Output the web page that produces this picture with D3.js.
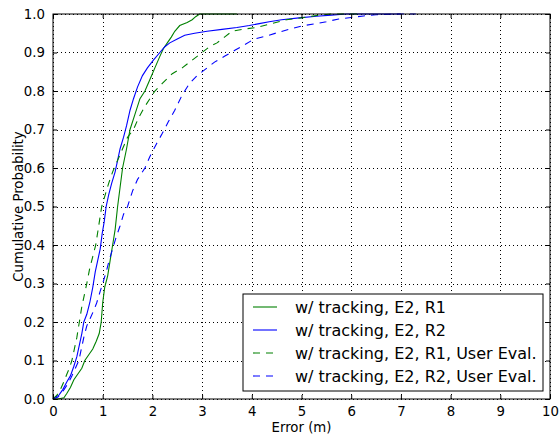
<!DOCTYPE html>
<html>
<head>
<meta charset="utf-8">
<script src="https://cdn.jsdelivr.net/npm/d3@7"></script>
<style>
  body { margin: 0; background: #fff; }
  text { font-family: "DejaVu Sans", sans-serif; fill: #000; }
</style>
</head>
<body>
<div id="chart"></div>
<script>
// error (m) vs cumulative probability
const r1Tracking = [[0,0],[0.1,0],[0.22,0.003],[0.28,0.015],[0.35,0.03],[0.42,0.05],[0.5,0.065],[0.58,0.08],[0.64,0.1],[0.72,0.115],[0.8,0.13],[0.87,0.15],[0.93,0.17],[0.97,0.2],[1.0,0.25],[1.04,0.29],[1.1,0.32],[1.15,0.36],[1.2,0.4],[1.25,0.44],[1.3,0.5],[1.35,0.55],[1.4,0.6],[1.48,0.65],[1.55,0.7],[1.65,0.74],[1.75,0.78],[1.85,0.8],[1.95,0.83],[2.05,0.86],[2.15,0.89],[2.22,0.91],[2.3,0.925],[2.38,0.94],[2.45,0.955],[2.55,0.97],[2.7,0.978],[2.8,0.985],[2.87,0.993],[2.95,1.0],[3.7,1.0]]

const r2Tracking = [[0,0],[0.05,0.005],[0.12,0.01],[0.2,0.025],[0.28,0.045],[0.35,0.06],[0.42,0.085],[0.48,0.11],[0.53,0.14],[0.58,0.17],[0.62,0.2],[0.68,0.22],[0.74,0.25],[0.8,0.29],[0.85,0.33],[0.9,0.36],[0.95,0.39],[0.99,0.43],[1.03,0.46],[1.07,0.5],[1.12,0.53],[1.18,0.56],[1.25,0.59],[1.3,0.62],[1.35,0.65],[1.42,0.68],[1.48,0.71],[1.55,0.75],[1.62,0.78],[1.7,0.81],[1.8,0.84],[1.9,0.86],[2.02,0.88],[2.15,0.9],[2.25,0.915],[2.35,0.925],[2.5,0.935],[2.65,0.945],[2.85,0.95],[3.1,0.955],[3.4,0.96],[3.7,0.965],[3.95,0.97],[4.15,0.975],[4.35,0.98],[4.6,0.985],[4.95,0.99],[5.3,0.994],[5.6,0.997],[5.9,1.0],[7.0,1.0]]

const r1User = [[0,0],[0.08,0.01],[0.15,0.025],[0.22,0.045],[0.28,0.065],[0.33,0.08],[0.38,0.1],[0.43,0.13],[0.48,0.16],[0.53,0.2],[0.58,0.24],[0.63,0.27],[0.68,0.3],[0.74,0.34],[0.8,0.37],[0.86,0.4],[0.92,0.45],[0.98,0.5],[1.05,0.53],[1.12,0.56],[1.2,0.59],[1.3,0.62],[1.4,0.65],[1.5,0.68],[1.62,0.7],[1.72,0.73],[1.85,0.76],[1.95,0.78],[2.05,0.8],[2.2,0.82],[2.4,0.845],[2.6,0.86],[2.8,0.88],[3.0,0.9],[3.15,0.915],[3.3,0.925],[3.45,0.94],[3.6,0.955],[3.8,0.96],[4.1,0.965],[4.4,0.975],[4.7,0.985],[5.0,0.99],[5.3,0.996],[5.6,1.0],[6.2,1.0]]

const r2User = [[0,0],[0.1,0.005],[0.2,0.02],[0.3,0.04],[0.38,0.06],[0.45,0.08],[0.52,0.1],[0.57,0.13],[0.62,0.16],[0.68,0.19],[0.75,0.21],[0.82,0.23],[0.88,0.25],[0.95,0.28],[1.0,0.3],[1.07,0.33],[1.13,0.36],[1.2,0.39],[1.27,0.42],[1.35,0.45],[1.42,0.48],[1.5,0.5],[1.6,0.54],[1.7,0.57],[1.85,0.6],[1.95,0.63],[2.07,0.66],[2.2,0.69],[2.32,0.72],[2.45,0.75],[2.6,0.79],[2.75,0.82],[2.9,0.84],[3.05,0.855],[3.25,0.875],[3.45,0.89],[3.65,0.905],[3.85,0.92],[4.05,0.935],[4.3,0.943],[4.55,0.953],[4.8,0.962],[5.05,0.97],[5.3,0.975],[5.5,0.98],[5.75,0.987],[6.0,0.991],[6.25,0.995],[6.5,0.998],[7.0,1.0],[7.3,1.0]]

const seriesNames = ["w/ tracking, E2, R1", "w/ tracking, E2, R2", "w/ tracking, E2, R1, User Eval.", "w/ tracking, E2, R2, User Eval."]
const xTicks = [0, 1, 2, 3, 4, 5, 6, 7, 8, 9, 10]
const yTicks = [0, 0.1, 0.2, 0.3, 0.4, 0.5, 0.6, 0.7, 0.8, 0.9, 1.0]

const series = [
    { name: seriesNames[0], values: r1Tracking, color: "#008000", dash: null },
    { name: seriesNames[1], values: r2Tracking, color: "#0000ff", dash: null },
    { name: seriesNames[2], values: r1User, color: "#008000", dash: "7,6" },
    { name: seriesNames[3], values: r2User, color: "#0000ff", dash: "7,6" }
]

// ----------------------------------------------------------

var margin = { top: 14, right: 9, bottom: 38, left: 53 },
    width = 559 - margin.left - margin.right,
    height = 437 - margin.top - margin.bottom;

var svg = d3.select("#chart")
    .append("svg")
    .attr("width", width + margin.left + margin.right)
    .attr("height", height + margin.top + margin.bottom)
    .append("g")
    .attr("transform", "translate(" + margin.left + "," + margin.top + ")");

var x = d3.scaleLinear().domain([0, 10]).range([0, width]);
var y = d3.scaleLinear().domain([0, 1]).range([height, 0]);

// grid (dotted)
const gridGroup = svg.append("g").attr("id", "grid")
gridGroup.selectAll(".vgrid").data(xTicks).enter()
    .append("line")
    .attr("x1", d => Math.round(x(d)) + 0.5).attr("x2", d => Math.round(x(d)) + 0.5)
    .attr("y1", 0).attr("y2", height)
    .attr("stroke", "#000").attr("stroke-width", 1)
    .attr("stroke-dasharray", "1,3")
gridGroup.selectAll(".hgrid").data(yTicks).enter()
    .append("line")
    .attr("y1", d => Math.round(y(d)) + 0.5).attr("y2", d => Math.round(y(d)) + 0.5)
    .attr("x1", 0).attr("x2", width)
    .attr("stroke", "#000").attr("stroke-width", 1)
    .attr("stroke-dasharray", "1,3")

// curves
const line = d3.line().x(d => x(d[0])).y(d => y(d[1]))
const elementGroup = svg.append("g").attr("id", "elementGroup")
elementGroup.selectAll("path").data(series).enter()
    .append("path")
    .attr("d", d => line(d.values))
    .attr("fill", "none")
    .attr("stroke", d => d.color)
    .attr("stroke-width", 1.1)
    .attr("stroke-dasharray", d => d.dash)

// axes: ticks inside on all four sides
const axisGroup = svg.append("g").attr("id", "axisGroup")
axisGroup.append("g").attr("transform", "translate(0," + height + ")")
    .call(d3.axisBottom(x).tickValues(xTicks).tickSizeInner(-4).tickSizeOuter(0).tickPadding(8).tickFormat(d3.format("d")))
axisGroup.append("g")
    .call(d3.axisTop(x).tickValues(xTicks).tickSizeInner(-4).tickSizeOuter(0).tickFormat(""))
axisGroup.append("g")
    .call(d3.axisLeft(y).tickValues(yTicks).tickSizeInner(-4).tickSizeOuter(0).tickPadding(8).tickFormat(d3.format(".1f")))
axisGroup.append("g").attr("transform", "translate(" + width + ",0)")
    .call(d3.axisRight(y).tickValues(yTicks).tickSizeInner(-4).tickSizeOuter(0).tickFormat(""))
axisGroup.selectAll(".domain").remove()
axisGroup.selectAll("text").style("font-family", "DejaVu Sans").style("font-size", "13.3px")

axisGroup.append("rect")
    .attr("x", 0).attr("y", 0).attr("width", width).attr("height", height)
    .attr("fill", "none").attr("stroke", "#000").attr("stroke-width", 1)

// axis labels
svg.append("text")
    .attr("text-anchor", "middle")
    .attr("x", width / 2)
    .attr("y", height + 33)
    .style("font-size", "13.3px")
    .text("Error (m)")

svg.append("text")
    .attr("text-anchor", "middle")
    .attr("transform", "rotate(-90)")
    .attr("x", -height / 2)
    .attr("y", -margin.left + 23)
    .style("font-size", "13.3px")
    .text("Cumulative Probability")

// legend, lower right
const legend = svg.append("g").attr("id", "legend")
    .attr("transform", "translate(" + (width - 307) + "," + (height - 105) + ")")
legend.append("rect")
    .attr("x", 0).attr("y", 0).attr("width", 300).attr("height", 97)
    .attr("fill", "#fff").attr("stroke", "#000").attr("stroke-width", 1)
const rows = legend.selectAll(".row").data(series).enter()
    .append("g")
    .attr("transform", (d, i) => "translate(0," + (13 + i * 23) + ")")
rows.append("line")
    .attr("x1", 10).attr("x2", 34).attr("y1", 0).attr("y2", 0)
    .attr("stroke", d => d.color)
    .attr("stroke-width", 1.1)
    .attr("stroke-dasharray", d => d.dash)
rows.append("text")
    .attr("x", 52)
    .attr("y", 6)
    .style("font-size", "16px")
    .text(d => d.name)
</script>
</body>
</html>
